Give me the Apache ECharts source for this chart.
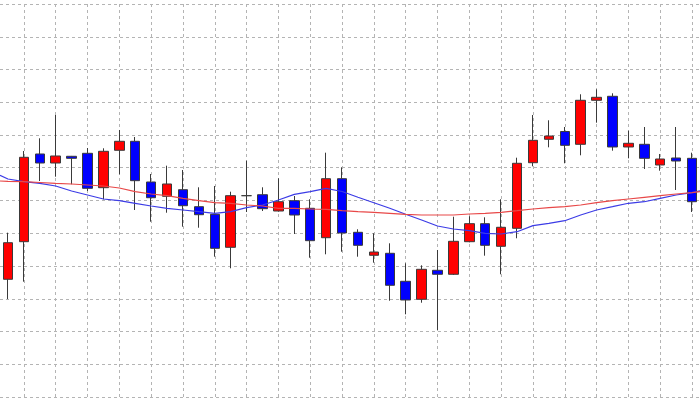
<!DOCTYPE html>
<html>
<head>
<meta charset="utf-8">
<script src="https://cdn.jsdelivr.net/npm/echarts@6/dist/echarts.min.js"></script>
<style>
html,body{margin:0;padding:0;background:#fff;}
#chart{width:700px;height:400px;}
</style>
</head>
<body>
<div id="chart"></div>
<script>
// Categories (trading periods)
var categories = [];
for (var k = 1; k <= 44; k++) categories.push('D' + k);

// OHLC values
var opens  = [35.94,47.42,74.20,71.45,73.50,74.41,63.91,75.33,78.08,65.65,61.28,63.30,58.11,55.79,45.71,61.47,61.77,56.79,59.94,57.62,48.64,66.66,50.29,43.27,43.88,35.33,29.83,38.69,37.47,47.42,52.92,46.02,51.51,71.54,78.69,81.07,77.16,90.60,91.82,76.34,77.16,70.84,72.98,72.88];
var closes = [47.11,73.19,71.45,73.59,72.88,63.72,75.02,78.08,66.05,60.85,65.04,58.41,55.66,45.40,61.47,61.47,57.50,59.63,55.57,47.73,66.66,50.08,46.32,44.27,34.11,29.62,38.99,37.47,47.54,52.92,46.32,51.82,71.36,78.38,79.69,76.85,90.60,91.51,76.34,77.47,72.88,72.67,72.06,59.63];
var lows   = [29.92,35.21,65.95,67.27,64.95,62.90,60.37,68.00,57.10,53.53,56.27,52.00,51.69,42.84,39.30,56.49,56.79,56.60,49.77,42.53,43.57,44.37,42.84,41.01,29.40,25.25,28.79,20.46,37.25,47.24,43.15,37.47,48.46,70.44,76.24,71.36,73.80,83.76,75.21,72.88,69.62,69.10,63.21,56.49];
var highs  = [50.17,75.11,78.99,86.11,73.60,76.03,75.94,81.53,79.39,68.09,70.63,69.31,64.03,64.43,62.69,72.15,64.03,66.78,61.37,60.37,74.60,70.14,51.21,49.98,46.93,40.82,40.21,44.89,55.05,55.18,54.87,60.37,73.07,86.11,84.49,82.44,92.43,93.95,92.73,81.31,82.44,74.20,82.44,74.60];

// Moving averages (one value per period)
var maFast = [66.56,65.74,65.25,64.43,62.90,61.68,60.46,59.94,59.15,58.32,57.62,57.10,56.58,56.09,56.58,57.80,58.63,60.15,61.89,62.69,63.72,62.75,60.98,59.33,57.62,55.79,54.05,52.21,51.30,50.78,49.98,49.77,50.47,52.31,53.04,53.83,55.57,57.10,58.11,59.15,59.63,60.67,61.68,62.38];
var maSlow = [65.86,65.74,65.50,65.25,65.04,64.73,64.43,63.82,62.69,61.98,61.47,60.67,59.94,59.33,59.15,58.63,58.32,57.62,57.62,57.40,57.31,56.89,56.58,56.40,56.09,55.79,55.57,55.57,55.57,55.88,56.09,56.40,56.89,57.40,57.80,58.11,58.63,59.33,59.94,60.46,60.98,61.47,61.98,62.38];
// Values of the averages at the left and right edges of the plot
var maFastEdges = [67.69, 62.99];
var maSlowEdges = [65.95, 62.69];

var ohlc = categories.map(function (c, i) {
  return [opens[i], closes[i], lows[i], highs[i]];
});
function lineData(ma, edges) {
  var d = [[-0.5, edges[0]]];
  ma.forEach(function (v, i) { d.push([i, v]); });
  d.push([ma.length - 0.5, edges[1]]);
  return d;
}

var chart = echarts.init(document.getElementById('chart'), null, {renderer: 'canvas'});
chart.setOption({
  animation: false,
  backgroundColor: '#ffffff',
  grid: {left: 0, right: 0, top: 4, bottom: 3, containLabel: false},
  xAxis: [{
    type: 'category',
    data: categories,
    boundaryGap: true,
    axisLine: {show: false},
    axisTick: {show: false},
    axisLabel: {show: false},
    splitLine: {
      show: true,
      alignWithLabel: true,
      interval: function (idx) { return idx % 2 === 1; },
      lineStyle: {color: '#b4b4b4', type: [3, 3], width: 1}
    }
  }, {
    type: 'value',
    min: -0.5,
    max: categories.length - 0.5,
    show: false,
    splitLine: {show: false}
  }],
  yAxis: {
    type: 'value',
    min: 0,
    max: 120,
    interval: 10,
    axisLine: {show: false},
    axisTick: {show: false},
    axisLabel: {show: false},
    splitLine: {show: true, lineStyle: {color: '#b4b4b4', type: [3, 3], width: 1}}
  },
  series: [{
    type: 'candlestick',
    data: ohlc,
    barWidth: 10,
    itemStyle: {
      color: '#ff0000',
      color0: '#0000ff',
      borderColor: '#3a3a3a',
      borderColor0: '#3a3a3a',
      borderWidth: 1
    }
  }, {
    type: 'line',
    xAxisIndex: 1,
    data: lineData(maFast, maFastEdges),
    symbol: 'none',
    lineStyle: {color: '#3c3ce6', width: 1.2}
  }, {
    type: 'line',
    xAxisIndex: 1,
    data: lineData(maSlow, maSlowEdges),
    symbol: 'none',
    lineStyle: {color: '#e84848', width: 1.2}
  }]
});
</script>
</body>
</html>
